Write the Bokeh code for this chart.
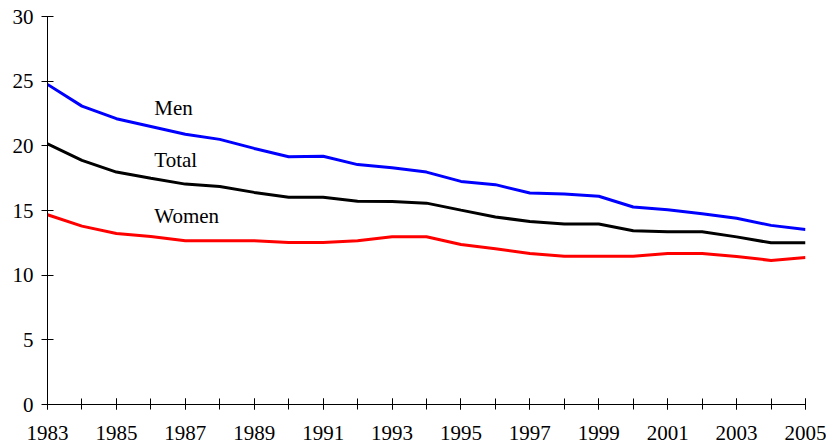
from bokeh.plotting import figure
from bokeh.models import FixedTicker, Range1d, ColumnDataSource
from bokeh.core.properties import value
from bokeh.embed import file_html
from bokeh.resources import INLINE

years = list(range(1983, 2006))
men = [24.75, 23.07, 22.1, 21.5, 20.9, 20.5, 19.8, 19.15, 19.2, 18.55, 18.3, 17.97,
       17.25, 17.0, 16.35, 16.27, 16.1, 15.27, 15.05, 14.75, 14.4, 13.85, 13.53]
total = [20.16, 18.87, 17.97, 17.5, 17.04, 16.86, 16.4, 16.03, 16.03, 15.72, 15.7, 15.57,
         15.03, 14.5, 14.15, 13.95, 13.95, 13.43, 13.35, 13.35, 12.96, 12.5, 12.5]
women = [14.67, 13.79, 13.22, 12.99, 12.66, 12.66, 12.66, 12.53, 12.53, 12.66, 12.97, 12.97,
         12.37, 12.04, 11.68, 11.47, 11.47, 11.47, 11.68, 11.68, 11.45, 11.14, 11.37]

label_names = ["Men", "Total", "Women"]
label_x = [1986.1, 1986.1, 1986.1]
label_y = [22.9, 18.9, 14.55]

y_ticks = [0, 5, 10, 15, 20, 25, 30]
x_label_ticks = list(range(1983, 2006, 2))

FONT = "Liberation Serif"

p = figure(width=826, height=444, output_backend="svg", toolbar_location=None,
           x_range=Range1d(1983, 2005), y_range=Range1d(0, 30),
           min_border_left=47, min_border_right=21, min_border_top=16, min_border_bottom=40)
p.outline_line_color = None
p.xgrid.visible = False
p.ygrid.visible = False
p.background_fill_color = "white"
p.border_fill_color = "white"

p.line(years, men, line_color="#0000FF", line_width=3)
p.line(years, total, line_color="#000000", line_width=3)
p.line(years, women, line_color="#FF0000", line_width=3)

src = ColumnDataSource(dict(x=label_x, y=label_y, t=label_names))
p.text(x="x", y="y", text="t", source=src, text_font=value(FONT),
       text_font_size="21px", text_color="black", text_baseline="alphabetic", text_align="left")

xa = p.xaxis[0]
xa.ticker = FixedTicker(ticks=x_label_ticks, minor_ticks=years)
xa.major_tick_in = 6
xa.major_tick_out = 5
xa.minor_tick_in = 6
xa.minor_tick_out = 5
xa.minor_tick_line_color = "black"
xa.major_tick_line_color = "black"
xa.axis_line_color = "black"
xa.major_label_text_font = FONT
xa.major_label_text_font_size = "21px"
xa.major_label_text_color = "black"
xa.major_label_text_line_height = 0.6
xa.major_label_standoff = 16

ya = p.yaxis[0]
ya.ticker = FixedTicker(ticks=y_ticks, minor_ticks=[])
ya.major_tick_in = 6
ya.major_tick_out = 6
ya.minor_tick_line_color = None
ya.major_tick_line_color = "black"
ya.axis_line_color = "black"
ya.major_label_text_font = FONT
ya.major_label_text_font_size = "21px"
ya.major_label_text_color = "black"
ya.major_label_standoff = 8

open("out.html", "w").write(file_html(p, INLINE))
